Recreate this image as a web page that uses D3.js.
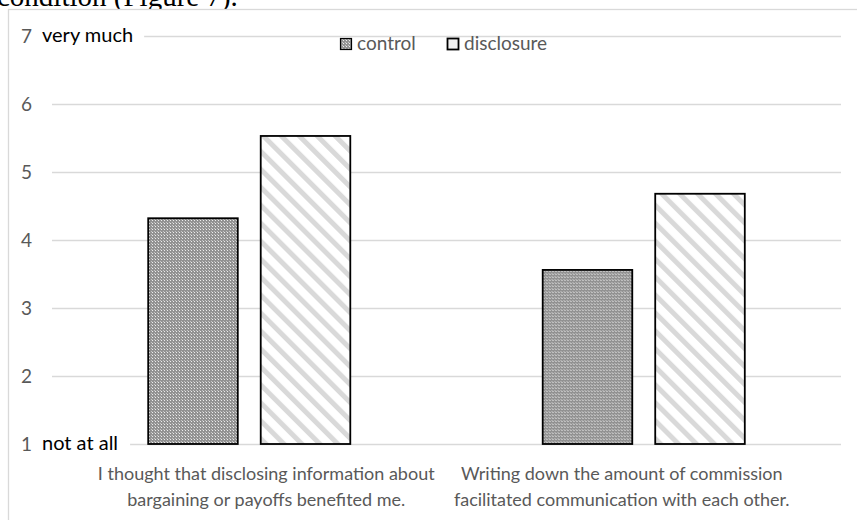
<!DOCTYPE html>
<html>
<head>
<meta charset="utf-8">
<script src="https://cdn.jsdelivr.net/npm/d3@7"></script>
<style>
  html, body { margin: 0; padding: 0; background: #fff; }
  svg { display: block; }
  text { font-family: Lato, "Liberation Sans", sans-serif; }
</style>
</head>
<body>
<svg id="chart" width="857" height="520"></svg>
<script>
// ---- data ----
const categories = ["cat1", "cat2"];
const categoryLines = [
  ["I thought that disclosing information about", "bargaining or payoffs benefited me."],
  ["Writing down the amount of commission", "facilitated communication with each other."]
];
const seriesNames = ["control", "disclosure"];
const controlValues = [4.32, 3.56];
const disclosureValues = [5.53, 4.68];
const yTicks = [1, 2, 3, 4, 5, 6, 7];
const topAnchorLabel = "very much";
const bottomAnchorLabel = "not at all";
const clippedCaption = "condition (Figure 7).";

// ---- layout ----
const W = 857, H = 520;
const plotLeft = 52, plotRight = 841;
const yTop = 36, yBottom = 444;
const FS = 19;
const grey = "#595959";
const gridColor = "#d9d9d9";

const svg = d3.select("#chart");

// patterns
const defs = svg.append("defs");
const pc = defs.append("pattern").attr("id", "pat-control")
  .attr("patternUnits", "userSpaceOnUse").attr("width", 3).attr("height", 3);
pc.append("rect").attr("width", 3).attr("height", 3).attr("fill", "#929292");
pc.append("rect").attr("x", 1).attr("y", 1).attr("width", 1).attr("height", 1).attr("fill", "#ececec");
pc.append("rect").attr("x", 0).attr("y", 0).attr("width", 1).attr("height", 1).attr("fill", "#c4c4c4");

const pd = defs.append("pattern").attr("id", "pat-disclosure")
  .attr("patternUnits", "userSpaceOnUse").attr("width", 12.7).attr("height", 12.7)
  .attr("patternTransform", "rotate(-45)");
pd.append("rect").attr("width", 12.7).attr("height", 12.7).attr("fill", "#ffffff");
pd.append("rect").attr("x", 0).attr("width", 5).attr("height", 12.7).attr("fill", "#d9d9d9");

const fills = { control: "url(#pat-control)", disclosure: "url(#pat-disclosure)" };

// background
svg.append("rect").attr("width", W).attr("height", H).attr("fill", "#fff");

// clipped caption above chart (cut off in the source picture as well)
svg.append("text").text(clippedCaption)
  .attr("x", -3).attr("y", 6)
  .style("font-family", "'Liberation Serif', 'Times New Roman', serif")
  .style("font-size", "29px").attr("fill", "#000");

// chart area
svg.append("rect").attr("x", 8.5).attr("y", 9.5).attr("width", 870).attr("height", 530)
  .attr("fill", "#fff").attr("stroke", gridColor).attr("stroke-width", 1.3);

// scales
const y = d3.scaleLinear().domain([1, 7]).range([yBottom, yTop]);
const x0 = d3.scaleBand().domain(categories).range([plotLeft, plotRight]).padding(0);
const x1 = d3.scaleBand().domain(seriesNames).range([0, x0.bandwidth()])
  .paddingInner(0.204).paddingOuter(0.855);

// y axis with gridlines
const yAxis = svg.append("g").attr("transform", `translate(${plotLeft},0)`)
  .call(d3.axisLeft(y).tickValues(yTicks).tickFormat(d3.format("d"))
    .tickSizeInner(-(plotRight - plotLeft)).tickSizeOuter(0).tickPadding(20));
yAxis.select(".domain").remove();
yAxis.selectAll(".tick line").attr("stroke", gridColor).attr("stroke-width", 1.6);
yAxis.selectAll(".tick text").attr("fill", grey).style("font-size", FS + "px")
  .style("font-family", "Lato, 'Liberation Sans', sans-serif");

// anchor labels with white boxes that break the gridline
function anchorLabel(txt, v, padRight) {
  const g = svg.append("g");
  const bg = g.append("rect").attr("fill", "#fff");
  const t = g.append("text").text(txt).attr("x", 42).attr("y", y(v)).attr("dy", "0.32em")
    .attr("fill", "#000").style("font-size", (FS + 1) + "px");
  const bb = t.node().getBBox();
  bg.attr("x", bb.x - 2).attr("y", y(v) - 4).attr("width", bb.width + 2 + padRight).attr("height", 8);
}
anchorLabel(topAnchorLabel, 7, 11);
anchorLabel(bottomAnchorLabel, 1, 12);

// bars
const rows = categories.map((c, i) => ({ cat: c, values: [
  { key: "control", value: controlValues[i] },
  { key: "disclosure", value: disclosureValues[i] }
]}));
const groups = svg.append("g").selectAll("g").data(rows).join("g")
  .attr("transform", d => `translate(${x0(d.cat)},0)`);
groups.selectAll("rect").data(d => d.values).join("rect")
  .attr("x", d => x1(d.key))
  .attr("y", d => y(d.value))
  .attr("width", x1.bandwidth())
  .attr("height", d => y(1) - y(d.value))
  .attr("fill", d => fills[d.key])
  .attr("stroke", "#000").attr("stroke-width", 1.8);

// category labels
const labelOffsets = [17, -22];
categories.forEach((c, i) => {
  const cx = x0(c) + x0.bandwidth() / 2 + labelOffsets[i];
  const t = svg.append("text").attr("text-anchor", "middle").attr("fill", grey)
    .style("font-size", "18px");
  categoryLines[i].forEach((line, j) => {
    t.append("tspan").attr("x", cx).attr("y", 480 + j * 26).text(line);
  });
});

// legend
const legend = svg.append("g");
const legendItems = [{ key: "control", x: 340 }, { key: "disclosure", x: 447 }];
legendItems.forEach(it => {
  legend.append("rect").attr("x", it.x + 0.5).attr("y", 38.5).attr("width", 11).attr("height", 11)
    .attr("fill", it.key === "control" ? fills.control : "#f2f2f2")
    .attr("stroke", "#000").attr("stroke-width", it.key === "control" ? 1.2 : 1.8);
  legend.append("text").text(it.key).attr("x", it.x + 17).attr("y", 49.5)
    .attr("fill", grey).style("font-size", FS + "px");
});
</script>
</body>
</html>
